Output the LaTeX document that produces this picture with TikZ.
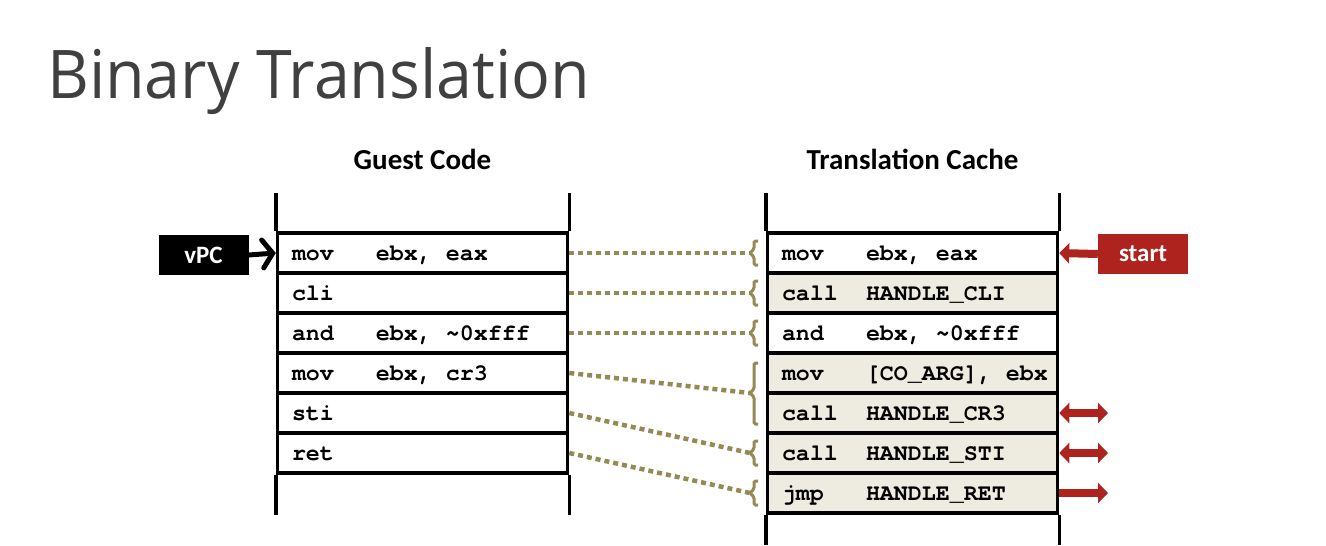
\documentclass[tikz,border=0pt]{standalone}
\usepackage{fontspec}
\newfontfamily\codefont{texgyrecursor}[Extension=.otf, UprightFont=*-regular, BoldFont=*-bold, Ligatures=NoCommon]
\newfontfamily\headfont{Carlito}
\newfontfamily\titlefont{Open Sans}
\usetikzlibrary{arrows.meta}
\definecolor{dotolive}{RGB}{148,138,84}
\definecolor{tcfill}{RGB}{238,236,225}
\definecolor{arrowred}{RGB}{175,35,30}
\definecolor{titlegray}{RGB}{64,64,64}
\begin{document}
\begin{tikzpicture}[x=1pt,y=-1pt,
  coderow/.style={draw=black, line width=3.5pt, minimum width=290pt, minimum height=40pt,
    inner sep=0pt, text height=20pt, text depth=6pt,
    font=\codefont\bfseries\fontsize{23.3}{28}\selectfont},
  shaded/.style={fill=tcfill},
  frame/.style={draw=black, line width=3.5pt},
  map/.style={draw=dotolive, line width=4.5pt, dash pattern=on 5pt off 4pt},
  tcbrace/.style={draw=dotolive, line width=3pt, rounded corners=1.5pt},
  head/.style={anchor=base, inner sep=0pt, font=\headfont\bfseries\fontsize{29}{34}\selectfont},
  tagbox/.style={minimum width=90pt, minimum height=40pt, inner sep=0pt, text=white,
    font=\headfont\bfseries\fontsize{25}{30}\selectfont},
  redarrow/.style={draw=arrowred, line width=8pt, -{Triangle[length=10pt,width=20pt]}},
  redboth/.style={draw=arrowred, line width=8pt, {Triangle[length=10pt,width=20pt]}-{Triangle[length=10pt,width=20pt]}}
]
\useasboundingbox[fill=white] (0,0) rectangle (1326,546);

% title and headers
\node[anchor=base west, inner sep=0pt, text=titlegray] (title) at (47,98)
  {\titlefont\resizebox{543pt}{51pt}{Binary Translation}};
\node[head] (ghead) at (422.5,169) {Guest Code};
\node[head] (thead) at (912.5,169) {Translation Cache};

% guest code rows
\node[coderow] (g1) at (422.5,253) {\makebox[261pt][l]{\makebox[84pt][l]{mov}ebx, eax}};
\node[coderow] (g2) at (422.5,293) {\makebox[261pt][l]{cli}};
\node[coderow] (g3) at (422.5,333) {\makebox[261pt][l]{\makebox[84pt][l]{and}ebx, \char`\~0xfff}};
\node[coderow] (g4) at (422.5,373) {\makebox[261pt][l]{\makebox[84pt][l]{mov}ebx, cr3}};
\node[coderow] (g5) at (422.5,413) {\makebox[261pt][l]{sti}};
\node[coderow] (g6) at (422.5,453) {\makebox[261pt][l]{ret}};

% translation cache rows
\node[coderow] (t1) at (912.5,253) {\makebox[261pt][l]{\makebox[84pt][l]{mov}ebx, eax}};
\node[coderow,shaded] (t2) at (912.5,293) {\makebox[261pt][l]{\makebox[84pt][l]{call}HANDLE\_CLI}};
\node[coderow] (t3) at (912.5,333) {\makebox[261pt][l]{\makebox[84pt][l]{and}ebx, \char`\~0xfff}};
\node[coderow,shaded] (t4) at (912.5,373) {\makebox[261pt][l]{\makebox[84pt][l]{mov}[CO\_ARG], ebx}};
\node[coderow,shaded] (t5) at (912.5,413) {\makebox[261pt][l]{\makebox[84pt][l]{call}HANDLE\_CR3}};
\node[coderow,shaded] (t6) at (912.5,453) {\makebox[261pt][l]{\makebox[84pt][l]{call}HANDLE\_STI}};
\node[coderow,shaded] (t7) at (912.5,493) {\makebox[261pt][l]{\makebox[84pt][l]{jmp}HANDLE\_RET}};

% brace tips
\coordinate (b1) at (750,253);
\coordinate (b2) at (750,293);
\coordinate (b3) at (750,333);
\coordinate (b4) at (750,393);
\coordinate (b5) at (750,453);
\coordinate (b6) at (750,493);

% dotted mapping lines
\draw[map] (g1.east) -- (b1);
\draw[map] (g2.east) -- (b2);
\draw[map] (g3.east) -- (b3);
\draw[map] (g4.east) -- (b4);
\draw[map] (g5.east) -- (b5);
\draw[map] (g6.east) -- (b6);

% braces
\draw[tcbrace] (758,241) -- (754,241) -- (754,249) -- (b1) -- (754,257) -- (754,265) -- (758,265);
\draw[tcbrace] (758,281) -- (754,281) -- (754,289) -- (b2) -- (754,297) -- (754,305) -- (758,305);
\draw[tcbrace] (758,321) -- (754,321) -- (754,329) -- (b3) -- (754,337) -- (754,345) -- (758,345);
\draw[tcbrace] (758,363) -- (754,363) -- (754,389) -- (b4) -- (754,397) -- (754,424) -- (758,424);
\draw[tcbrace] (758,441) -- (754,441) -- (754,449) -- (b5) -- (754,457) -- (754,465) -- (758,465);
\draw[tcbrace] (758,481) -- (754,481) -- (754,489) -- (b6) -- (754,497) -- (754,505) -- (758,505);

% column side lines
\draw[frame] (g1.north west) -- ++(0,-38);
\draw[frame] (g1.north east) -- ++(0,-38);
\draw[frame] (g6.south west) -- ++(0,40);
\draw[frame] (g6.south east) -- ++(0,40);
\draw[frame] (t1.north west) -- ++(0,-38);
\draw[frame] (t1.north east) -- ++(0,-38);
\draw[frame] (t7.south west) -- ++(0,30);
\draw[frame] (t7.south east) -- ++(0,30);

% vPC pointer
\node[tagbox, fill=black] (vpc) at (203.5,255) {vPC};
\draw[black, line width=5pt, line cap=round, -{Straight Barb[length=10pt,width=28pt,line cap=round]}] (vpc.east) -- (g1.west);

% start pointer
\node[tagbox, fill=arrowred] (start) at (1143,254) {start};
\draw[redarrow] (start.west) -- (t1.east);

% call/return arrows
\coordinate (d5) at (1108,413);
\coordinate (d6) at (1108,453);
\coordinate (d7) at (1108,493);
\draw[redboth] (t5.east) -- (d5);
\draw[redboth] (t6.east) -- (d6);
\draw[redarrow] (t7.east) -- (d7);
\end{tikzpicture}
\end{document}
